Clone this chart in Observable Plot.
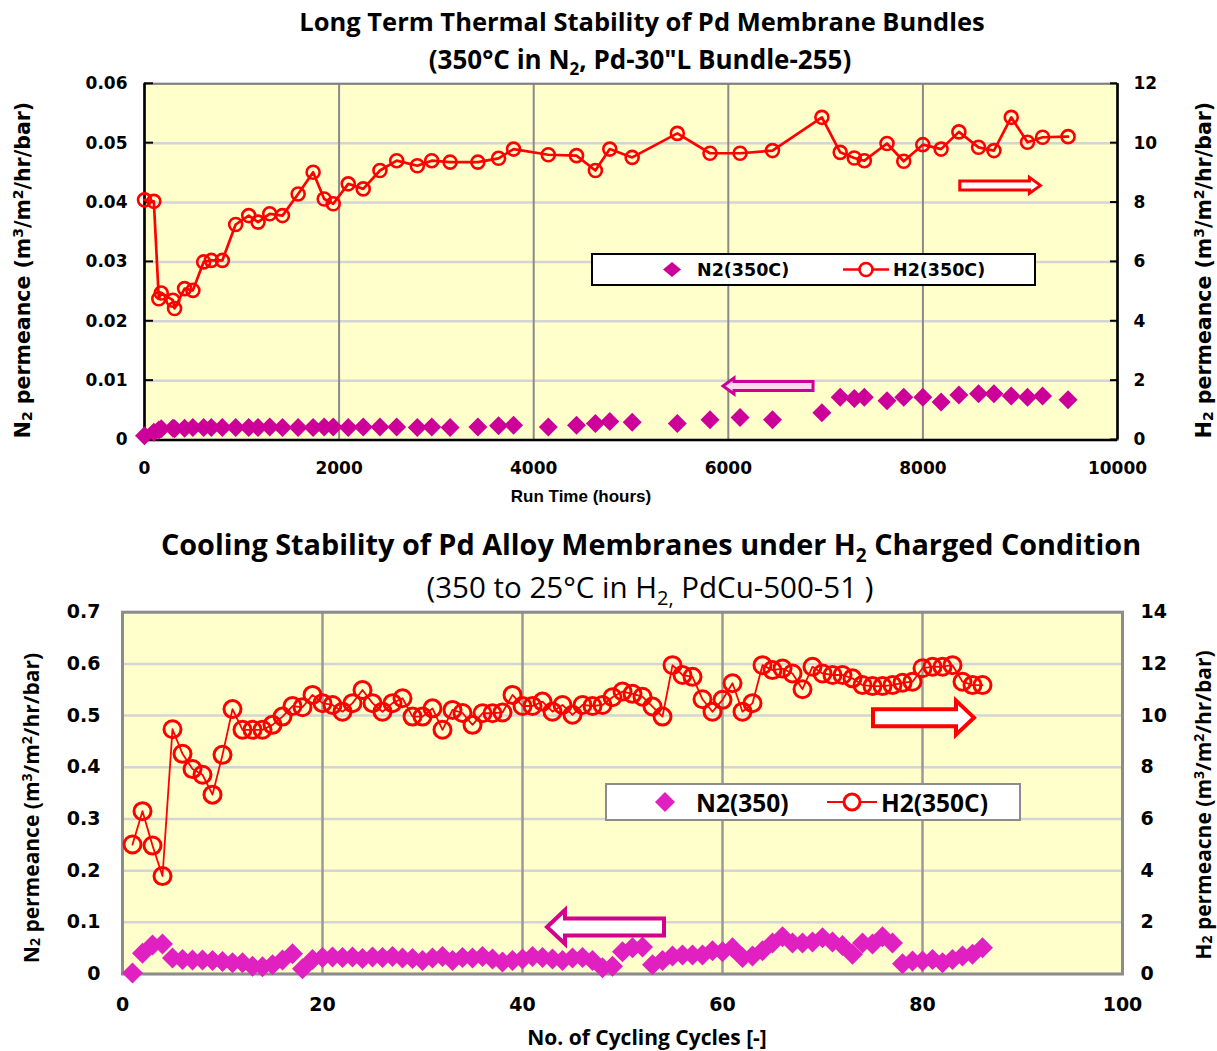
<!DOCTYPE html>
<html><head><meta charset="utf-8">
<script src="https://cdn.jsdelivr.net/npm/d3@7"></script>
<script src="https://cdn.jsdelivr.net/npm/@observablehq/plot@0.6"></script>
<style>
body{margin:0;background:#fff;}
#wrap{position:relative;width:1217px;height:1051px;overflow:hidden;background:#fff;}
.abs{position:absolute;white-space:nowrap;}
.ttl{font-family:"Open Sans",sans-serif;color:#000;transform:translateX(-50%);line-height:1;}
.leg{position:absolute;background:#fff;box-sizing:border-box;}
svg{overflow:visible;}
</style></head><body><div id="wrap"></div>
<script>
// ---------- DATA: top chart (Run time, hours) ----------
const topHours = [0, 96, 147, 172, 292, 309, 412, 497, 608, 687, 800, 937, 1071, 1167, 1287, 1418, 1579, 1733, 1847, 1940, 2094, 2248, 2420, 2592, 2804, 2952, 3141, 3426, 3639, 3793, 4150, 4440, 4634, 4782, 5012, 5476, 5812, 6121, 6454, 6962, 7150, 7295, 7398, 7631, 7803, 7999, 8187, 8370, 8572, 8730, 8908, 9075, 9230, 9492];
const topH2 = [8.09, 8.04, 4.76, 4.95, 4.71, 4.43, 5.10, 5.04, 6.00, 6.05, 6.05, 7.26, 7.56, 7.34, 7.62, 7.56, 8.29, 9.02, 8.12, 7.96, 8.63, 8.46, 9.08, 9.41, 9.24, 9.41, 9.36, 9.36, 9.49, 9.80, 9.61, 9.58, 9.08, 9.80, 9.52, 10.33, 9.66, 9.66, 9.75, 10.87, 9.69, 9.50, 9.41, 9.99, 9.39, 9.95, 9.80, 10.38, 9.86, 9.75, 10.87, 10.03, 10.20, 10.22];
const topN2 = [0.0007, 0.0013, 0.0017, 0.0019, 0.0020, 0.0019, 0.0020, 0.0021, 0.0021, 0.0021, 0.0021, 0.0021, 0.0021, 0.0021, 0.0022, 0.0021, 0.0021, 0.0021, 0.0022, 0.0022, 0.0021, 0.0022, 0.0022, 0.0022, 0.0021, 0.0022, 0.0021, 0.0022, 0.0024, 0.0025, 0.0022, 0.0025, 0.0028, 0.0031, 0.0030, 0.0028, 0.0034, 0.0038, 0.0034, 0.0046, 0.0072, 0.0070, 0.0072, 0.0066, 0.0072, 0.0072, 0.0064, 0.0076, 0.0078, 0.0078, 0.0074, 0.0072, 0.0074, 0.0068];
const topXTicks = [0, 2000, 4000, 6000, 8000, 10000];
const topYTicks = [0, 0.01, 0.02, 0.03, 0.04, 0.05, 0.06];
const topY2Ticks = [0, 2, 4, 6, 8, 10, 12];

// ---------- DATA: bottom chart (cycling cycles) ----------
const botCycles = [1,2,3,4,5,6,7,8,9,10,11,12,13,14,15,16,17,18,19,20,21,22,23,24,25,26,27,28,29,30,31,32,33,34,35,36,37,38,39,40,41,42,43,44,45,46,47,48,49,50,51,52,53,54,55,56,57,58,59,60,61,62,63,64,65,66,67,68,69,70,71,72,73,74,75,76,77,78,79,80,81,82,83,84,85,86];
const botH2 = [5.01, 6.30, 4.97, 3.79, 9.47, 8.52, 7.93, 7.71, 6.94, 8.48, 10.25, 9.45, 9.45, 9.45, 9.64, 9.96, 10.37, 10.32, 10.80, 10.48, 10.41, 10.15, 10.48, 10.99, 10.48, 10.15, 10.48, 10.67, 9.96, 9.96, 10.28, 9.45, 10.22, 10.10, 9.64, 10.09, 10.09, 10.12, 10.80, 10.37, 10.37, 10.54, 10.15, 10.41, 10.03, 10.41, 10.37, 10.41, 10.71, 10.93, 10.84, 10.73, 10.35, 9.96, 11.95, 11.57, 11.50, 10.63, 10.15, 10.61, 11.25, 10.15, 10.48, 11.95, 11.76, 11.82, 11.63, 11.02, 11.89, 11.63, 11.57, 11.57, 11.44, 11.18, 11.14, 11.14, 11.18, 11.27, 11.31, 11.83, 11.89, 11.89, 11.95, 11.31, 11.18, 11.18];
const botN2 = [0.002, 0.040, 0.056, 0.058, 0.031, 0.028, 0.027, 0.027, 0.026, 0.024, 0.022, 0.022, 0.015, 0.014, 0.018, 0.027, 0.039, 0.010, 0.028, 0.032, 0.033, 0.032, 0.033, 0.030, 0.033, 0.032, 0.034, 0.031, 0.030, 0.026, 0.031, 0.034, 0.026, 0.032, 0.031, 0.034, 0.029, 0.023, 0.026, 0.029, 0.034, 0.032, 0.029, 0.026, 0.031, 0.032, 0.026, 0.012, 0.015, 0.043, 0.051, 0.052, 0.018, 0.026, 0.035, 0.037, 0.037, 0.037, 0.045, 0.043, 0.051, 0.032, 0.035, 0.045, 0.060, 0.072, 0.060, 0.060, 0.062, 0.070, 0.062, 0.055, 0.038, 0.060, 0.058, 0.072, 0.060, 0.020, 0.025, 0.025, 0.028, 0.022, 0.028, 0.035, 0.038, 0.051];
const botXTicks = [0, 20, 40, 60, 80, 100];
const botYTicks = [0, 0.1, 0.2, 0.3, 0.4, 0.5, 0.6, 0.7];
const botY2Ticks = [0, 2, 4, 6, 8, 10, 12, 14];

// annotation arrows (data units: from tail to tip, at a level on the left axis)
const topArrows = [
  {from: 6876, to: 5951, y: 0.0090, color: "#CC0099", fill: "#FBD9EF"},
  {from: 8384, to: 9213, y: 0.0428, color: "#FF0000", fill: "#FFFFFF"}
];
const botArrows = [
  {from: 54.2, to: 42.5, y: 0.090, color: "#D4008C", fill: "#FFFFFF"},
  {from: 75.1, to: 85.2, y: 0.495, color: "#FF0000", fill: "#FFFFFF"}
];

(function () {
// ---------- helpers ----------
const diamond = {draw(ctx, size) { const r = Math.sqrt(size / Math.PI); ctx.moveTo(0, -r); ctx.lineTo(r, 0); ctx.lineTo(0, r); ctx.lineTo(-r, 0); ctx.closePath(); }};

function blockArrows(list, bodyH, headH, headL, sw) {
  return (index, scales) => {
    const g = d3.create("svg:g");
    for (const a of list) {
      const x1 = scales.x(a.from), x2 = scales.x(a.to), y = scales.y(a.y);
      const d = Math.sign(x2 - x1), xb = x2 - d * headL, b = bodyH / 2, h = headH / 2;
      g.append("path")
        .attr("d", `M${x1},${y - b}L${xb},${y - b}L${xb},${y - h}L${x2},${y}L${xb},${y + h}L${xb},${y + b}L${x1},${y + b}Z`)
        .attr("fill", a.fill).attr("stroke", a.color).attr("stroke-width", sw).attr("stroke-linejoin", "miter");
    }
    return g.node();
  };
}

// short inward tick marks on the left and right frame edges
function inwardTicks(ticks, lenL, lenR, sw) {
  return (index, scales, values, dims) => {
    const g = d3.create("svg:g").attr("stroke", "#000").attr("stroke-width", sw);
    const xl = dims.marginLeft, xr = dims.width - dims.marginRight;
    for (const t of ticks) {
      const y = scales.y(t);
      g.append("line").attr("x1", xl).attr("x2", xl + lenL).attr("y1", y).attr("y2", y);
      g.append("line").attr("x1", xr - lenR).attr("x2", xr).attr("y1", y).attr("y2", y);
    }
    return g.node();
  };
}

function rich(sel, parts, small) {
  for (const [t, k] of parts) {
    const ts = sel.append("tspan").text(t);
    if (k === "sub") ts.attr("baseline-shift", "-25%").attr("font-size", small);
    if (k === "sup") ts.attr("baseline-shift", "35%").attr("font-size", small);
  }
}
const permParts = (gas) => [[gas[0]], [gas[1], "sub"], [" permeance (m"], ["3", "sup"], ["/m"], ["2", "sup"], ["/hr/bar)"]];

const wrap = document.getElementById("wrap");
function place(el, x, y) { el.style.position = "absolute"; el.style.left = x + "px"; el.style.top = y + "px"; wrap.appendChild(el); }
function html(cls, x, y, inner, style) { const d = document.createElement("div"); d.className = cls; d.innerHTML = inner; Object.assign(d.style, style || {}); place(d, x, y); return d; }

// ---------- titles ----------
html("abs ttl", 642, 9, "Long Term Thermal Stability of Pd Membrane Bundles", {fontWeight: 700, fontSize: "25.5px"});
html("abs ttl", 640, 46, "(350°C in N<sub style='font-size:17px'>2</sub>, Pd-30\"L Bundle-255)", {fontWeight: 700, fontSize: "26px"});
html("abs ttl", 651, 530, "Cooling Stability of Pd Alloy Membranes under H<sub style='font-size:19px'>2</sub> Charged Condition", {fontWeight: 700, fontSize: "28.8px"});
html("abs ttl", 650, 572, "(350 to 25°C in H<sub style='font-size:20px'>2,</sub> PdCu-500-51 )", {fontWeight: 400, fontSize: "29.5px"});

// ---------- top chart ----------
const topData = topHours.map((h, i) => ({hours: h, h2: topH2[i], n2: topN2[i]}));
const f1 = 200; // 12 on right axis  <->  0.06 on left axis
const chartA = Plot.plot({
  width: 1217, height: 440,
  marginTop: 8.3, marginBottom: 75.5, marginLeft: 144, marginRight: 100,
  x: {domain: [0, 10000]},
  y: {domain: [0, 0.06]},
  style: {fontFamily: "DejaVu Sans", fontWeight: "bold", fontSize: "17px", color: "#000", background: "transparent", overflow: "visible"},
  marks: [
    Plot.frame({fill: "#FFFFCC", stroke: null}),
    Plot.gridY(topYTicks, {stroke: "#d4d4d4", strokeOpacity: 1, strokeWidth: 2.5}),
    Plot.gridX(topXTicks, {stroke: "#8a8a8a", strokeOpacity: 1, strokeWidth: 2}),
    Plot.frame({stroke: "#808080", strokeWidth: 2}),
    Plot.ruleX([0, 10000], {stroke: "#000", strokeWidth: 2.5}),
    Plot.ruleY([0], {stroke: "#000", strokeWidth: 2.5}),
    inwardTicks(topYTicks, 9, 7, 2),
    Plot.axisY(topYTicks, {anchor: "left", tickSize: 0, tickPadding: 17, label: null, tickFormat: d => d === 0 ? "0" : d.toFixed(2)}),
    Plot.axisY(topY2Ticks.map(v => v / f1), {anchor: "right", tickSize: 0, tickPadding: 16, label: null, tickFormat: d => String(Math.round(d * f1))}),
    Plot.axisX(topXTicks, {anchor: "bottom", tickSize: 0, tickPadding: 22, label: null, tickFormat: d => String(d)}),
    Plot.dot(topData, {x: "hours", y: "n2", symbol: diamond, r: 9.5, fill: "#CC0099", stroke: null}),
    Plot.line(topData, {x: "hours", y: d => d.h2 / f1, stroke: "#FF0000", strokeWidth: 2.7}),
    Plot.dot(topData, {x: "hours", y: d => d.h2 / f1, r: 6.5, stroke: "#FF0000", strokeWidth: 2.6, fill: "none"}),
    blockArrows(topArrows, 9, 16, 11, 3)
  ]
});
place(chartA, 0, 75);
{
  const s = d3.select(chartA);
  s.append("text").attr("transform", "translate(23,195) rotate(-90)").attr("text-anchor", "middle").attr("dominant-baseline", "central")
    .attr("font-family", "DejaVu Sans").attr("font-weight", "bold").attr("font-size", 20.5).call(t => rich(t, permParts("N2"), 14));
  s.append("text").attr("transform", "translate(1204,195) rotate(-90)").attr("text-anchor", "middle").attr("dominant-baseline", "central")
    .attr("font-family", "DejaVu Sans").attr("font-weight", "bold").attr("font-size", 20.5).call(t => rich(t, permParts("H2"), 14));
  s.append("text").attr("x", 581).attr("y", 421).attr("text-anchor", "middle").attr("dominant-baseline", "central")
    .attr("font-family", "Liberation Sans").attr("font-weight", "bold").attr("font-size", 17).text("Run Time (hours)");
}

// top legend
{
  const lg = html("leg", 591, 253, "", {width: "445px", height: "33px", border: "2px solid #000"});
  lg.innerHTML = `<svg width="441" height="29" style="position:absolute;left:0;top:0">
    <path d="M79,7L88,14.5L79,22L70,14.5Z" fill="#CC0099"/>
    <line x1="250" x2="296" y1="14.5" y2="14.5" stroke="#FF0000" stroke-width="2.7"/>
    <circle cx="273" cy="14.5" r="6.5" fill="#fff" stroke="#FF0000" stroke-width="2.6"/>
    <text x="104" y="15" dominant-baseline="central" font-family="DejaVu Sans" font-weight="bold" font-size="17.5">N2(350C)</text>
    <text x="300" y="15" dominant-baseline="central" font-family="DejaVu Sans" font-weight="bold" font-size="17.5">H2(350C)</text>
  </svg>`;
}

// ---------- bottom chart ----------
const botData = botCycles.map((c, i) => ({cycle: c, h2: botH2[i], n2: botN2[i]}));
const f2 = 20; // 14 on right axis <-> 0.7 on left axis
const chartB = Plot.plot({
  width: 1217, height: 446,
  marginTop: 6.7, marginBottom: 77.5, marginLeft: 122, marginRight: 95,
  x: {domain: [0, 100]},
  y: {domain: [0, 0.7]},
  style: {fontFamily: "DejaVu Sans", fontWeight: "bold", fontSize: "19px", color: "#000", background: "transparent", overflow: "visible"},
  marks: [
    Plot.frame({fill: "#FFFFCC", stroke: null}),
    Plot.gridY(botYTicks, {stroke: "#d4d4d4", strokeOpacity: 1, strokeWidth: 2.5}),
    Plot.gridX(botXTicks, {stroke: "#999999", strokeOpacity: 1, strokeWidth: 2.5}),
    Plot.frame({stroke: "#8c8c8c", strokeWidth: 3}),
    Plot.axisY(botYTicks, {anchor: "left", tickSize: 0, tickPadding: 22, label: null, tickFormat: d => d === 0 ? "0" : d.toFixed(1)}),
    Plot.axisY(botY2Ticks.map(v => v / f2), {anchor: "right", tickSize: 0, tickPadding: 18, label: null, tickFormat: d => String(Math.round(d * f2))}),
    Plot.axisX(botXTicks, {anchor: "bottom", tickSize: 0, tickPadding: 23, label: null, tickFormat: d => String(d)}),
    Plot.dot(botData, {x: "cycle", y: "n2", symbol: diamond, r: 10.5, fill: "#E020C0", stroke: null}),
    Plot.line(botData, {x: "cycle", y: d => d.h2 / f2, stroke: "#FF0000", strokeWidth: 1.8}),
    Plot.dot(botData, {x: "cycle", y: d => d.h2 / f2, r: 8.5, stroke: "#FF0000", strokeWidth: 3, fill: "none"}),
    blockArrows(botArrows, 17, 34, 18, 4)
  ]
});
place(chartB, 0, 605);
{
  const s = d3.select(chartB);
  s.append("text").attr("transform", "translate(31,203) rotate(-90)").attr("text-anchor", "middle").attr("dominant-baseline", "central")
    .attr("font-family", "Open Sans").attr("font-weight", 700).attr("font-size", 21).call(t => rich(t, permParts("N2"), 14));
  s.append("text").attr("transform", "translate(1203,200) rotate(-90)").attr("text-anchor", "middle").attr("dominant-baseline", "central")
    .attr("font-family", "Open Sans").attr("font-weight", 700).attr("font-size", 21)
    .call(t => rich(t, [["H"], ["2", "sub"], [" permeacne (m"], ["3", "sup"], ["/m"], ["2", "sup"], ["/hr/bar)"]], 14));
  s.append("text").attr("x", 647).attr("y", 432).attr("text-anchor", "middle").attr("dominant-baseline", "central")
    .attr("font-family", "Open Sans").attr("font-weight", 700).attr("font-size", 21).text("No. of Cycling Cycles [-]");
}

// bottom legend
{
  const lg = html("leg", 605, 783, "", {width: "416px", height: "38px", border: "2px solid #8c8c8c"});
  lg.innerHTML = `<svg width="412" height="34" style="position:absolute;left:0;top:0">
    <path d="M58,7L68,17L58,27L48,17Z" fill="#E020C0"/>
    <line x1="220" x2="270" y1="17" y2="17" stroke="#FF0000" stroke-width="2"/>
    <circle cx="245" cy="17" r="8" fill="#fff" stroke="#FF0000" stroke-width="3"/>
    <text x="89" y="17" dominant-baseline="central" font-family="Open Sans" font-weight="bold" font-size="24.5">N2(350)</text>
    <text x="274" y="17" dominant-baseline="central" font-family="Open Sans" font-weight="bold" font-size="24.5">H2(350C)</text>
  </svg>`;
}
})();
</script></body></html>
